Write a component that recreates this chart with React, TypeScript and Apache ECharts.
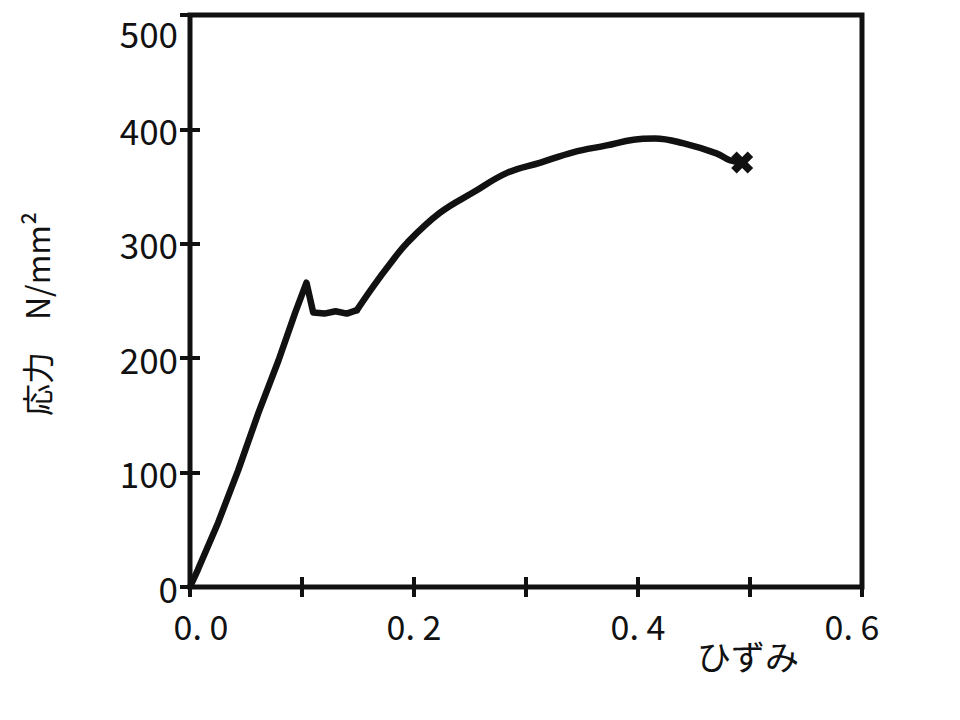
import React, { useEffect, useRef } from "react";
import * as echarts from "echarts";

// Elastic part + yield drop + plateau (strain, stress N/mm²)
const elasticStrain = [0, 0.007, 0.025, 0.043, 0.061, 0.079, 0.094, 0.104, 0.11, 0.12, 0.13, 0.14, 0.149];
const elasticStress = [0, 15, 56, 102, 152, 198, 240, 266, 240, 239, 241, 239, 242];
// Strain hardening part
const hardeningStrain = [0.149, 0.163, 0.179, 0.194, 0.223, 0.253, 0.283, 0.313, 0.342, 0.372, 0.396, 0.415, 0.44, 0.47, 0.482, 0.493];
const hardeningStress = [242, 262, 283, 301, 327, 345, 362, 371, 380, 386, 391, 392, 388, 379, 373, 371];
// Fracture point
const fractureStrain = [0.493];
const fractureStress = [371];

const xTickValues = [0, 0.1, 0.2, 0.3, 0.4, 0.5, 0.6];
const xLabelValues = ["0. 0", "", "0. 2", "", "0. 4", "", "0. 6"];
const yTickLabels = ["0", "100", "200", "300", "400", "500"];

const yAxisTitle = "応力　N/mm²";
const xAxisTitle = "ひずみ";

const INK = "#111";
const NUM_FONT = "'Noto Sans CJK JP', 'Liberation Sans', sans-serif";
const CJK_FONT = "'Noto Sans CJK JP', 'Noto Sans', sans-serif";

export default function App() {
  const ref = useRef<HTMLDivElement>(null);
  useEffect(() => {
    if (!ref.current) return;
    const chart = echarts.init(ref.current, null, { renderer: "svg" });
    const zip = (xs: number[], ys: number[]) => xs.map((x, i) => [x, ys[i]]);
    const xFmt = (v: number) => {
      const i = xTickValues.findIndex((t) => Math.abs(t - v) < 1e-6);
      if (i < 0) return "";
      const s = xLabelValues[i];
      if (i === 0) return `{first|${s}}`;
      if (i === xTickValues.length - 1) return `{last|${s}}`;
      return s;
    };
    const yFmt = (v: number) => {
      const i = Math.round(v / 100);
      const s = yTickLabels[i] ?? "";
      return i === yTickLabels.length - 1 ? `{top|${s}}` : s;
    };
    const tick = { show: true, inside: true, length: 10, lineStyle: { color: INK, width: 4 } };
    const numStyle = { fontFamily: NUM_FONT, color: INK };
    chart.setOption({
      animation: false,
      backgroundColor: "#fff",
      grid: {
        left: 190,
        right: 98,
        top: 15,
        bottom: 133,
        show: true,
        borderColor: INK,
        borderWidth: 5,
        backgroundColor: "transparent",
      },
      xAxis: [
        {
          type: "value",
          position: "bottom",
          min: 0,
          max: 0.6,
          interval: 0.1,
          axisLine: { show: false },
          axisTick: tick,
          splitLine: { show: false },
          axisLabel: {
            formatter: xFmt,
            color: INK,
            fontFamily: NUM_FONT,
            fontSize: 34,
            margin: 21,
            showMinLabel: true,
            showMaxLabel: true,
            rich: {
              first: { ...numStyle, fontSize: 34, padding: [0, 0, 0, 22] },
              last: { ...numStyle, fontSize: 34, padding: [0, 20, 0, 0] },
            },
          },
        },
        {
          type: "value",
          position: "top",
          min: 0,
          max: 0.6,
          interval: 0.1,
          axisLine: { show: false },
          axisTick: tick,
          splitLine: { show: false },
          axisLabel: { show: false },
        },
      ],
      yAxis: [
        {
          type: "value",
          position: "left",
          min: 0,
          max: 500,
          interval: 100,
          axisLine: { show: false },
          axisTick: tick,
          splitLine: { show: false },
          axisLabel: {
            formatter: yFmt,
            color: INK,
            fontFamily: NUM_FONT,
            fontSize: 35,
            margin: 12,
            rich: {
              top: { ...numStyle, fontSize: 35, padding: [34, 0, 0, 0] },
            },
          },
        },
        {
          type: "value",
          position: "right",
          min: 0,
          max: 500,
          interval: 100,
          axisLine: { show: false },
          axisTick: tick,
          splitLine: { show: false },
          axisLabel: { show: false },
        },
      ],
      series: [
        {
          type: "line",
          data: zip(elasticStrain, elasticStress),
          showSymbol: false,
          smooth: false,
          lineStyle: { color: INK, width: 6.5, join: "round", cap: "round" },
        },
        {
          type: "line",
          data: zip(hardeningStrain, hardeningStress),
          showSymbol: false,
          smooth: 0.4,
          lineStyle: { color: INK, width: 6.5, cap: "round" },
        },
        {
          type: "scatter",
          data: zip(fractureStrain, fractureStress),
          symbol: "path://M2.5,0 L5,2.5 L7.5,0 L10,2.5 L7.5,5 L10,7.5 L7.5,10 L5,7.5 L2.5,10 L0,7.5 L2.5,5 L0,2.5 Z",
          symbolSize: 22,
          itemStyle: { color: INK, opacity: 1 },
        },
      ],
      graphic: [
        {
          type: "text",
          x: 36,
          y: 314,
          rotation: Math.PI / 2,
          style: {
            text: yAxisTitle,
            fill: INK,
            font: `32px ${CJK_FONT}`,
            align: "center",
            verticalAlign: "middle",
          },
        },
        {
          type: "text",
          x: 748,
          y: 655,
          style: {
            text: xAxisTitle,
            fill: INK,
            font: `34px ${CJK_FONT}`,
            align: "center",
            verticalAlign: "middle",
          },
        },
      ],
    });
    return () => chart.dispose();
  }, []);
  return <div ref={ref} style={{ width: 960, height: 720, margin: -8 }} />;
}
